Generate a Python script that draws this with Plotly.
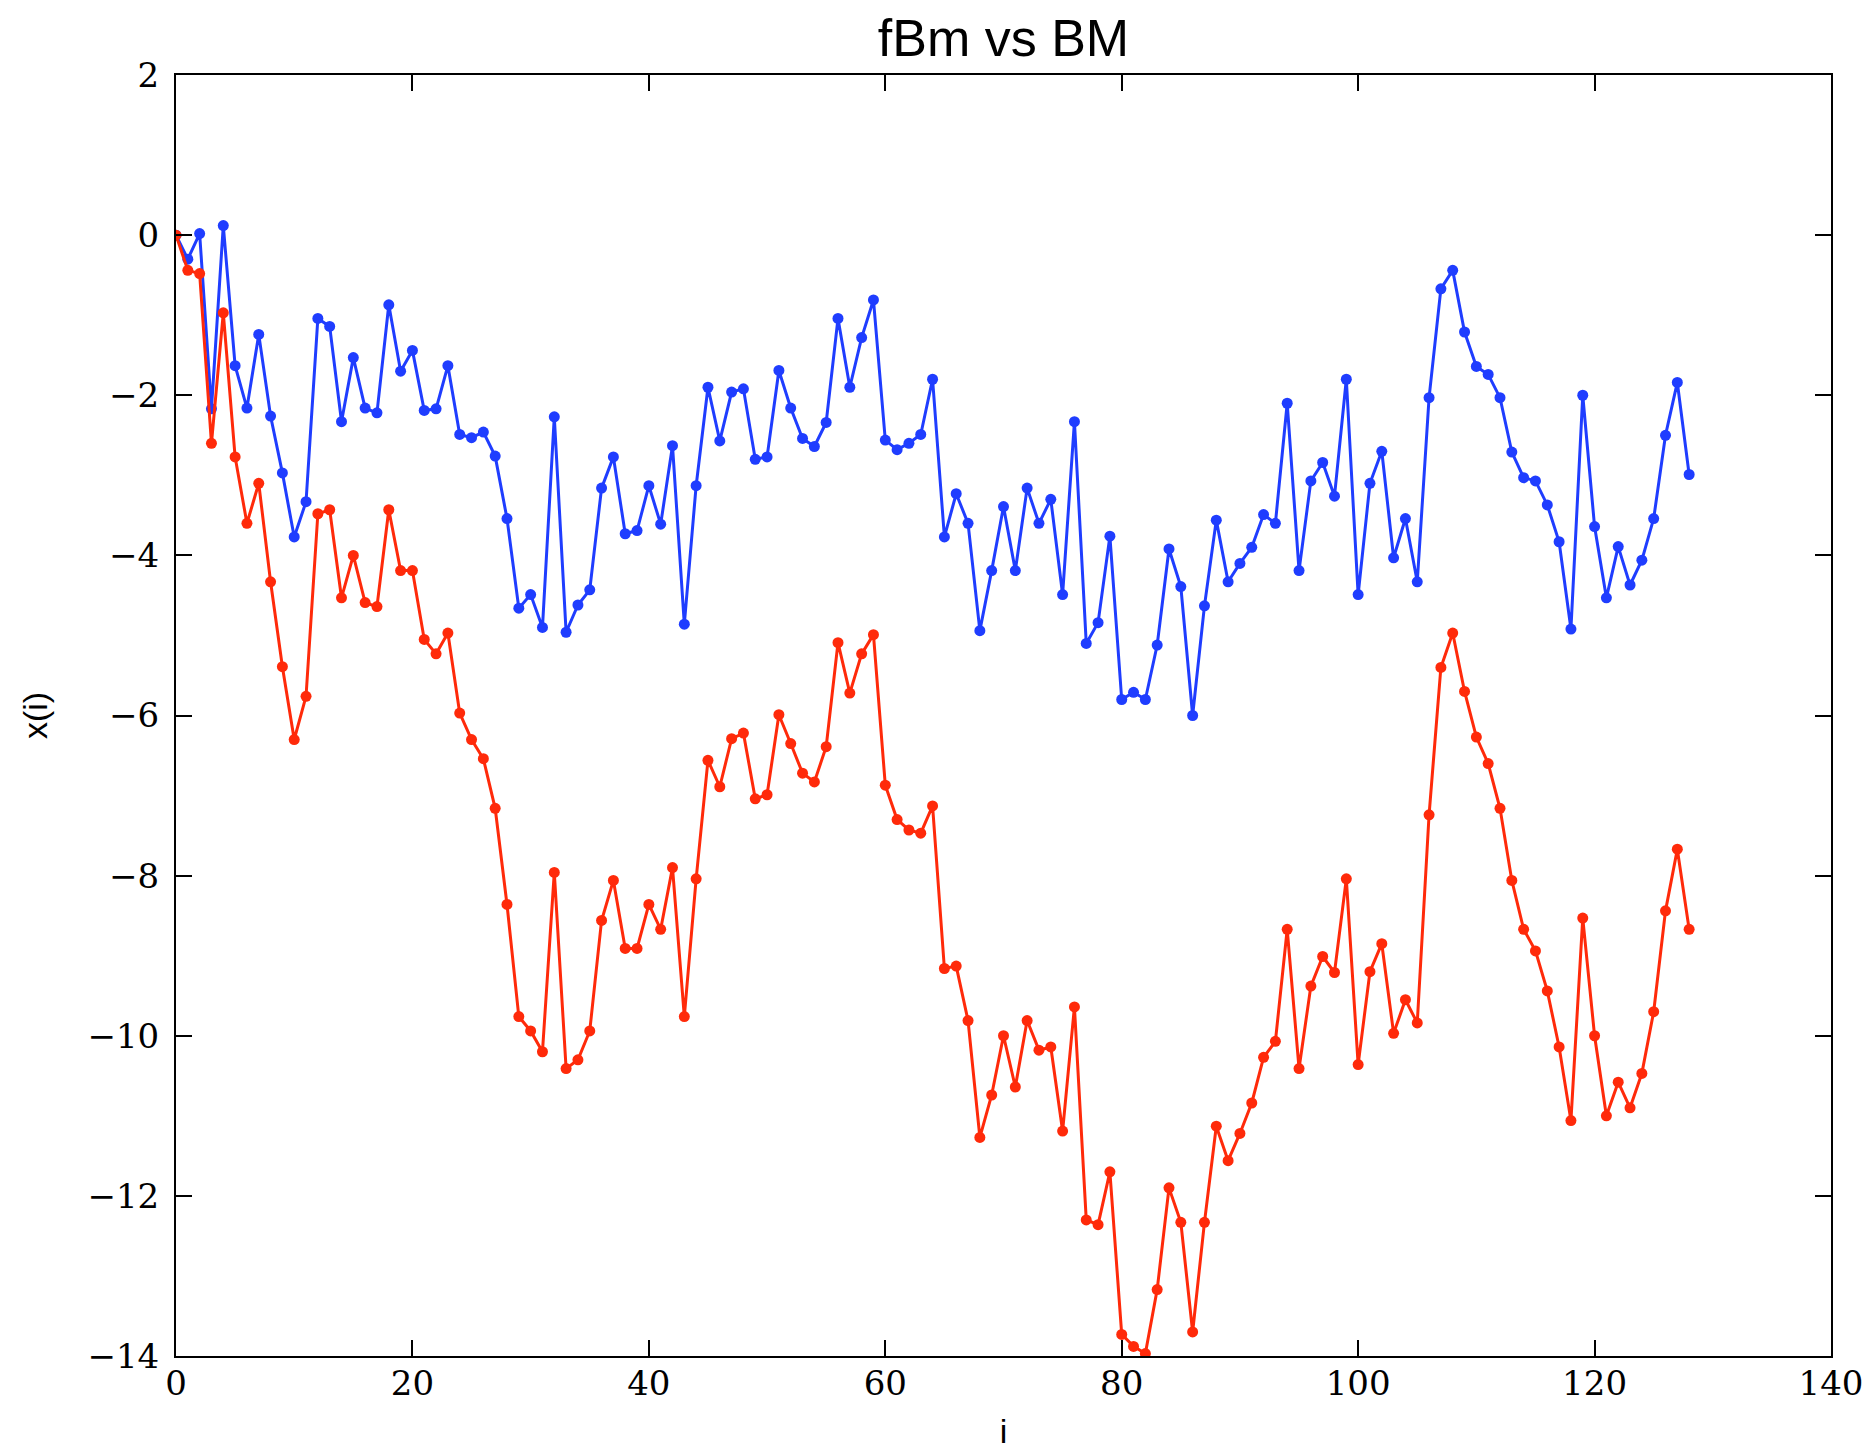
import plotly.graph_objects as go

i_vals = list(range(129))

fbm = [0.0, -0.3, 0.02, -2.17, 0.12, -1.63, -2.16, -1.24, -2.26, -2.97,
       -3.77, -3.33, -1.04, -1.14, -2.33, -1.53, -2.16, -2.22, -0.87, -1.70,
       -1.44, -2.19, -2.17, -1.63, -2.49, -2.53, -2.46, -2.76, -3.54, -4.66,
       -4.49, -4.90, -2.27, -4.96, -4.62, -4.43, -3.16, -2.77, -3.73, -3.69,
       -3.13, -3.61, -2.63, -4.86, -3.13, -1.90, -2.57, -1.96, -1.92, -2.80,
       -2.77, -1.69, -2.16, -2.54, -2.64, -2.34, -1.04, -1.90, -1.28, -0.81,
       -2.56, -2.68, -2.60, -2.49, -1.80, -3.77, -3.23, -3.60, -4.94, -4.19,
       -3.39, -4.19, -3.16, -3.60, -3.30, -4.49, -2.33, -5.10, -4.84, -3.76,
       -5.80, -5.71, -5.80, -5.12, -3.92, -4.39, -6.00, -4.63, -3.56, -4.33,
       -4.10, -3.90, -3.49, -3.60, -2.10, -4.19, -3.07, -2.84, -3.26, -1.80,
       -4.49, -3.10, -2.70, -4.03, -3.54, -4.33, -2.03, -0.67, -0.44, -1.21,
       -1.64, -1.74, -2.03, -2.71, -3.03, -3.07, -3.37, -3.83, -4.92, -2.00,
       -3.64, -4.53, -3.89, -4.37, -4.06, -3.54, -2.50, -1.84, -2.99]

bm = [0.0, -0.44, -0.48, -2.60, -0.97, -2.77, -3.60, -3.10, -4.33, -5.39,
      -6.30, -5.76, -3.48, -3.43, -4.53, -4.00, -4.59, -4.64, -3.43, -4.19,
      -4.19, -5.05, -5.23, -4.97, -5.97, -6.30, -6.54, -7.16, -8.36, -9.76,
      -9.94, -10.20, -7.96, -10.41, -10.30, -9.94, -8.56, -8.06, -8.91, -8.91,
      -8.36, -8.67, -7.90, -9.76, -8.04, -6.56, -6.89, -6.29, -6.22, -7.04,
      -6.99, -5.99, -6.35, -6.72, -6.83, -6.39, -5.09, -5.72, -5.23, -4.99,
      -6.87, -7.30, -7.43, -7.47, -7.13, -9.16, -9.13, -9.81, -11.27, -10.74,
      -10.00, -10.64, -9.81, -10.18, -10.14, -11.19, -9.64, -12.30, -12.36, -11.70,
      -13.73, -13.88, -13.97, -13.17, -11.90, -12.33, -13.70, -12.33, -11.13, -11.56,
      -11.22, -10.84, -10.27, -10.07, -8.67, -10.41, -9.38, -9.01, -9.21, -8.04,
      -10.36, -9.20, -8.85, -9.97, -9.55, -9.84, -7.24, -5.40, -4.97, -5.70,
      -6.27, -6.60, -7.16, -8.06, -8.67, -8.94, -9.44, -10.14, -11.06, -8.53,
      -10.00, -11.00, -10.58, -10.90, -10.47, -9.70, -8.44, -7.67, -8.67]

x_ticks = [0, 20, 40, 60, 80, 100, 120, 140]
y_ticks = [-14, -12, -10, -8, -6, -4, -2, 0, 2]

W, H = 1867, 1455
L, R, T, B = 176, 36, 75, 99

fig = go.Figure()
fig.add_trace(go.Scatter(x=i_vals, y=fbm, mode="lines+markers",
                         line=dict(color="#1f3dff", width=3),
                         marker=dict(color="#1f3dff", size=11, symbol="circle"),
                         cliponaxis=True, showlegend=False))
fig.add_trace(go.Scatter(x=i_vals, y=bm, mode="lines+markers",
                         line=dict(color="#ff2a0a", width=3),
                         marker=dict(color="#ff2a0a", size=11, symbol="circle"),
                         cliponaxis=True, showlegend=False))

tickfont = dict(family="DejaVu Serif, serif", size=34, color="black")
labfont = dict(family="Liberation Sans, Arial, sans-serif", size=34, color="black")

fig.update_layout(
    width=W, height=H, autosize=False,
    margin=dict(l=L, r=R, t=T, b=B, autoexpand=False),
    paper_bgcolor="white", plot_bgcolor="white",
    title=dict(text="fBm vs BM", x=(L + (W - R)) / 2 / W, xanchor="center",
               y=1 - 38 / H, yanchor="middle", yref="container",
               font=dict(family="Liberation Sans, Arial, sans-serif", size=52, color="black")),
    xaxis=dict(range=[0, 140], tickvals=x_ticks, ticktext=[str(v) for v in x_ticks],
               automargin=False,
               showgrid=False, zeroline=False, showline=True, linecolor="black",
               linewidth=2, mirror="ticks", ticks="inside", ticklen=16, tickwidth=1.5,
               tickcolor="black", tickfont=tickfont, ticklabelstandoff=-4,
               title=dict(text="i", font=labfont, standoff=17)),
    yaxis=dict(range=[-14, 2], tickvals=y_ticks,
               ticktext=[("\u2212" + str(-v)) if v < 0 else str(v) for v in y_ticks],
               automargin=False,
               showgrid=False, zeroline=False, showline=True, linecolor="black",
               linewidth=2, mirror="ticks", ticks="inside", ticklen=16, tickwidth=1.5,
               tickcolor="black", tickfont=tickfont, ticklabelstandoff=8,
               title=dict(text="x(i)", font=labfont, standoff=30)),
)

fig.write_html("out.html", config={"displayModeBar": False})

with open("out.html", "r", encoding="utf-8") as f:
    html = f.read()
html = html.replace("<head>", "<head><style>html,body{margin:0;padding:0;overflow:hidden;}</style>", 1)
with open("out.html", "w", encoding="utf-8") as f:
    f.write(html)
